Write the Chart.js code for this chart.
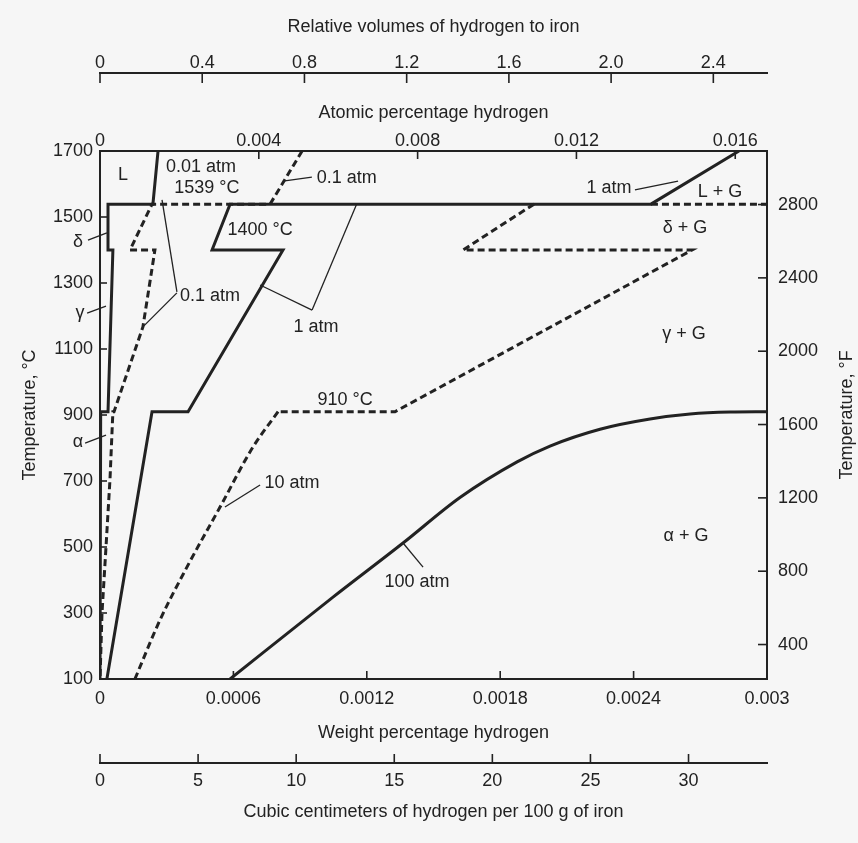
<!DOCTYPE html>
<html>
<head>
<meta charset="utf-8">
<script src="https://cdn.jsdelivr.net/npm/chart.js@4.4.1/dist/chart.umd.min.js"></script>
<style>
  html, body { margin: 0; padding: 0; background: #f6f6f6; }
  #wrap { width: 858px; height: 843px; }
</style>
</head>
<body>
<div id="wrap"><canvas id="c"></canvas></div>
<script>
// ---------- tick values and labels ----------
const wtTicks = [0, 0.0006, 0.0012, 0.0018, 0.0024, 0.003];
const wtTickLabels = ['0', '0.0006', '0.0012', '0.0018', '0.0024', '0.003'];
const ccTicks = [0, 5, 10, 15, 20, 25, 30];
const ccTickLabels = ['0', '5', '10', '15', '20', '25', '30'];
const volTicks = [0, 0.4, 0.8, 1.2, 1.6, 2.0, 2.4];
const volTickLabels = ['0', '0.4', '0.8', '1.2', '1.6', '2.0', '2.4'];
const atTicks = [0, 0.004, 0.008, 0.012, 0.016];
const atTickLabels = ['0', '0.004', '0.008', '0.012', '0.016'];
const tcTicks = [100, 300, 500, 700, 900, 1100, 1300, 1500, 1700];
const tcTickLabels = ['100', '300', '500', '700', '900', '1100', '1300', '1500', '1700'];
const tfTicks = [400, 800, 1200, 1600, 2000, 2400, 2800];
const tfTickLabels = ['400', '800', '1200', '1600', '2000', '2400', '2800'];

// ---------- solubility curves: [weight % H, temperature °C] ----------
const atm001 = [[0.000261, 1700], [0.000238, 1539], [0.000036, 1539], [0.000036, 1400],
                [0.000058, 1400], [0.000036, 910], [0.000003, 910], [0, 100]];
const atm01 = [[0.000909, 1700], [0.000765, 1539], [0.000234, 1539], [0.000135, 1400],
               [0.000247, 1400], [0.000193, 1167], [0.000063, 910], [0.000058, 910],
               [0.000045, 706], [0.000027, 500], [0.000009, 300], [0, 100]];
const atm1 = [[0.002874, 1700], [0.002478, 1539], [0.000585, 1539], [0.000504, 1400],
              [0.000823, 1400], [0.000396, 910], [0.000234, 910], [0.000031, 100]];
const atm10High = [[0.001952, 1539], [0.001633, 1400], [0.002663, 1400], [0.001327, 910], [0.000801, 910]];
const atm10Alpha = [[0.000801, 910], [0.000688, 803], [0.00054, 621], [0.000391, 439],
                    [0.00027, 279], [0.000157, 100]];
const atm100 = [[0.000585, 100], [0.001048, 348], [0.001363, 512], [0.001619, 650],
                [0.001876, 758], [0.002024, 806], [0.002249, 857], [0.002474, 888],
                [0.002654, 903], [0.002834, 909], [0.003, 910]];
const liquidusGas = [[0.002478, 1539], [0.003, 1539]];

// ---------- leader lines ----------
const leaders = [
  [[0.000823, 1609], [0.000953, 1621]],          // 0.1 atm (top)
  [[0.000346, 1273], [0.000279, 1552]],          // 0.1 atm (middle) up
  [[0.000346, 1270], [0.000193, 1167]],          // 0.1 atm (middle) down
  [[0.000954, 1218], [0.00072, 1294]],           // 1 atm (middle) left
  [[0.000954, 1218], [0.001156, 1542]],          // 1 atm (middle) up
  [[0.002406, 1582], [0.0026, 1609]],            // 1 atm (top right)
  [[0.00072, 688], [0.000562, 621]],             // 10 atm
  [[0.001363, 512], [0.001453, 439]],            // 100 atm
  [[-0.000054, 1430], [0.000031, 1452]],         // delta
  [[-0.000058, 1209], [0.000027, 1230]],         // gamma
  [[-0.000067, 815], [0.000027, 839]]            // alpha
];

// ---------- text labels ----------
const notes = [
  ['L', 0.000103, 1627],
  ['0.01 atm', 0.000454, 1651],
  ['1539 °C', 0.000481, 1588],
  ['0.1 atm', 0.00111, 1618],
  ['1400 °C', 0.00072, 1461],
  ['0.1 atm', 0.000495, 1261],
  ['1 atm', 0.000972, 1167],
  ['1 atm', 0.002289, 1588],
  ['L + G', 0.002789, 1576],
  ['δ + G', 0.002631, 1467],
  ['γ + G', 0.002627, 1145],
  ['910 °C', 0.001102, 945],
  ['10 atm', 0.000864, 694],
  ['100 atm', 0.001426, 394],
  ['α + G', 0.002636, 533],
  ['δ', -0.000099, 1424],
  ['γ', -0.00009, 1209],
  ['α', -0.000099, 818]
];

const INK = '#222222';
const FONT = "'Liberation Sans', Arial, Helvetica, sans-serif";
Chart.defaults.font.family = FONT;
Chart.defaults.color = INK;

const toXY = arr => arr.map(([x, y]) => ({ x, y }));
const thick = (data, dash, extra) => Object.assign({
  data: toXY(data), showLine: true, pointRadius: 0, borderColor: INK, borderWidth: 3,
  borderDash: dash || [], borderCapStyle: 'butt', borderJoinStyle: 'miter', tension: 0, fill: false
}, extra || {});

const datasets = [
  thick(atm001),
  thick(atm01, [7, 4]),
  thick(atm1),
  thick(atm10High, [7, 4]),
  thick(atm10Alpha, [7, 4], { cubicInterpolationMode: 'monotone' }),
  thick(atm100, null, { cubicInterpolationMode: 'monotone' }),
  thick(liquidusGas, [7, 4])
];
leaders.forEach(l => datasets.push({
  data: toXY(l), showLine: true, pointRadius: 0, borderColor: INK, borderWidth: 1.3,
  fill: false, clip: false
}));

function fixedTicks(values) {
  return s => { s.ticks = values.map(v => ({ value: v })); };
}
function axis(opts) {
  return Object.assign({
    type: 'linear',
    grid: { display: false, drawTicks: false },
    border: { display: true, color: INK, width: 2 },
  }, opts);
}
const tickFont = { size: 18 };
const titleFont = { size: 18 };

const decor = {
  id: 'decor',
  afterDraw(chart) {
    const ctx = chart.ctx;
    const sc = chart.scales;
    ctx.save();
    ctx.strokeStyle = INK;
    ctx.lineWidth = 1.6;
    const spec = [['x', 8], ['cc', 9], ['at', 8], ['vol', 10], ['y', 7], ['tf', 9]];
    spec.forEach(([id, len]) => {
      const s = sc[id];
      s.ticks.forEach(t => {
        const p = s.getPixelForValue(t.value);
        ctx.beginPath();
        if (s.position === 'bottom') { ctx.moveTo(p, s.top); ctx.lineTo(p, s.top - len); }
        else if (s.position === 'top') { ctx.moveTo(p, s.bottom); ctx.lineTo(p, s.bottom + len); }
        else if (s.position === 'left') { ctx.moveTo(s.right, p); ctx.lineTo(s.right + len, p); }
        else { ctx.moveTo(s.left, p); ctx.lineTo(s.left - len, p); }
        ctx.stroke();
      });
    });
    // labels
    ctx.fillStyle = INK;
    ctx.textAlign = 'center';
    ctx.textBaseline = 'middle';
    ctx.font = '18px ' + FONT;
    notes.forEach(([t, x, y]) => {
      ctx.fillText(t, sc.x.getPixelForValue(x), sc.y.getPixelForValue(y));
    });
    // right axis title, reading upward
    const ca = chart.chartArea;
    ctx.translate(sc.tf.right - 11, (ca.top + ca.bottom) / 2);
    ctx.rotate(-Math.PI / 2);
    ctx.fillText('Temperature, °F', 0, 0);
    ctx.restore();
  }
};

new Chart(document.getElementById('c'), {
  type: 'scatter',
  data: { datasets },
  options: {
    responsive: true,
    maintainAspectRatio: false,
    animation: false,
    devicePixelRatio: 1,
    layout: { padding: 0 },
    plugins: { legend: { display: false }, tooltip: { enabled: false } },
    scales: {
      x: axis({
        position: 'bottom', weight: 0, min: 0, max: 0.003,
        afterBuildTicks: fixedTicks(wtTicks),
        afterFit: s => { s.height = 84; },
        ticks: { padding: 9, font: tickFont, autoSkip: false, maxRotation: 0, color: INK,
                 callback: (v, i) => wtTickLabels[i] },
        title: { display: true, text: 'Weight percentage hydrogen', font: titleFont, color: INK,
                 padding: { top: 0, bottom: 19 } }
      }),
      cc: axis({
        position: 'bottom', weight: 1, min: 0, max: 34,
        afterBuildTicks: fixedTicks(ccTicks),
        afterFit: s => { s.height = 80; },
        ticks: { padding: 7, font: tickFont, autoSkip: false, maxRotation: 0, color: INK,
                 callback: (v, i) => ccTickLabels[i] },
        title: { display: true, text: 'Cubic centimeters of hydrogen per 100 g of iron', font: titleFont,
                 color: INK, padding: { top: 0, bottom: 20 } }
      }),
      at: axis({
        position: 'top', weight: 0, min: 0, max: 0.0168,
        afterBuildTicks: fixedTicks(atTicks),
        afterFit: s => { s.height = 78; },
        ticks: { padding: -1, font: tickFont, autoSkip: false, maxRotation: 0, color: INK,
                 callback: (v, i) => atTickLabels[i] },
        title: { display: true, text: 'Atomic percentage hydrogen', font: titleFont, color: INK,
                 padding: { top: 29, bottom: 0 } }
      }),
      vol: axis({
        position: 'top', weight: 1, min: 0, max: 2.61,
        afterBuildTicks: fixedTicks(volTicks),
        afterFit: s => { s.height = 73; },
        ticks: { padding: -1, font: tickFont, autoSkip: false, maxRotation: 0, color: INK,
                 callback: (v, i) => volTickLabels[i] },
        title: { display: true, text: 'Relative volumes of hydrogen to iron', font: titleFont, color: INK,
                 padding: { top: 16, bottom: 0 } }
      }),
      y: axis({
        position: 'left', min: 100, max: 1700,
        afterBuildTicks: fixedTicks(tcTicks),
        afterFit: s => { s.width = 100; },
        ticks: { padding: 7, font: tickFont, autoSkip: false, color: INK,
                 callback: (v, i) => tcTickLabels[i] },
        title: { display: true, text: 'Temperature, °C', font: titleFont, color: INK,
                 padding: { top: 19, bottom: 0 } }
      }),
      tf: axis({
        position: 'right', min: 212, max: 3092,
        afterBuildTicks: fixedTicks(tfTicks),
        afterFit: s => { s.width = 91; },
        ticks: { padding: 11, font: tickFont, autoSkip: false, color: INK,
                 callback: (v, i) => tfTickLabels[i] },
        title: { display: false }
      })
    }
  },
  plugins: [decor]
});
</script>
</body>
</html>
